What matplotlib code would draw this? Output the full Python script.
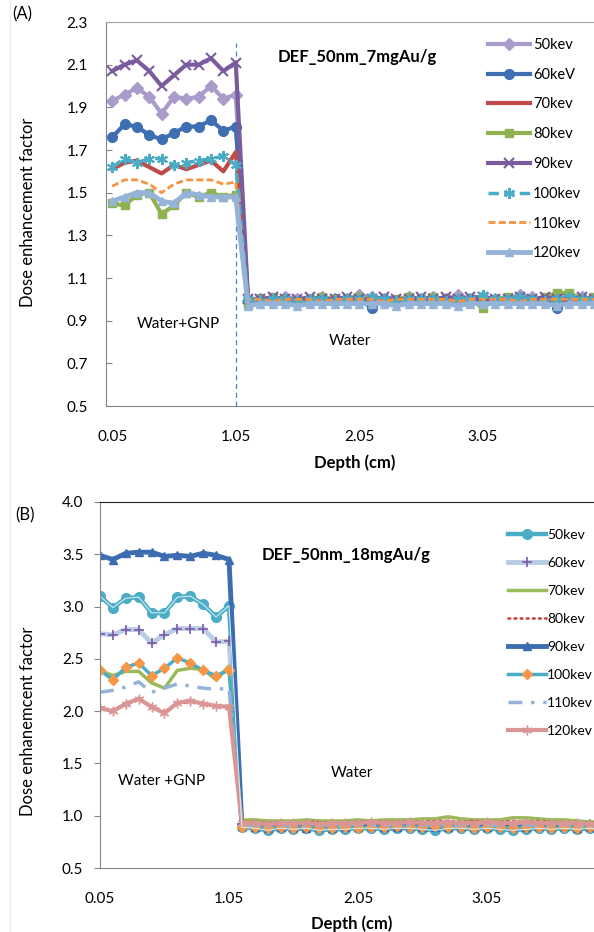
"""Dose enhancement factor vs depth, two GNP concentrations (A: 7 mgAu/g, B: 18 mgAu/g)."""

import matplotlib

matplotlib.use("Agg")
import matplotlib.pyplot as plt  # noqa: E402

plt.rcParams["font.family"] = ["Lato", "DejaVu Sans"]

W, H = 594, 932

DEPTH = [0.05, 0.15, 0.25, 0.35, 0.45, 0.55, 0.65, 0.75, 0.85, 0.95,
         1.05, 1.15, 1.25, 1.35, 1.45, 1.55, 1.65, 1.75, 1.85, 1.95,
         2.05, 2.15, 2.25, 2.35, 2.45, 2.55, 2.65, 2.75, 2.85, 2.95,
         3.05, 3.15, 3.25, 3.35, 3.45, 3.55, 3.65, 3.75, 3.85, 3.95]
XTICKS = [0.05, 1.05, 2.05, 3.05]
LABELS = ["50kev", "60keV", "70kev", "80kev", "90kev", "100kev", "110kev", "120kev"]
LABELS_B = ["50kev", "60kev", "70kev", "80kev", "90kev", "100kev", "110kev", "120kev"]

# panel A: 7 mgAu/g
A50 = [1.93, 1.96, 1.99, 1.95, 1.87, 1.95, 1.94, 1.95, 2.00, 1.94, 1.96,
       0.99, 1.00, 1.00, 1.01, 1.00, 0.99, 1.01, 1.00, 1.00, 1.02, 1.01, 1.00, 0.99, 1.01,
       1.00, 1.01, 1.00, 1.02, 1.00, 1.01, 1.00, 1.00, 1.02, 1.01, 1.00, 1.01, 1.02, 1.01, 1.00]
A60 = [1.76, 1.82, 1.81, 1.77, 1.75, 1.78, 1.81, 1.81, 1.84, 1.79, 1.81,
       0.99, 1.00, 0.99, 1.00, 0.99, 1.00, 0.99, 1.00, 0.99, 1.00, 0.96, 1.00, 0.99, 1.00,
       0.99, 1.00, 1.00, 0.99, 1.00, 0.99, 0.99, 1.00, 1.00, 0.99, 1.00, 0.96, 1.00, 0.99, 0.99]
A70 = [1.61, 1.64, 1.65, 1.62, 1.59, 1.63, 1.61, 1.63, 1.65, 1.60, 1.69,
       1.00, 0.99, 1.00, 0.99, 1.00, 0.98, 1.00, 0.99, 1.00, 0.99, 1.00, 0.99, 1.00, 1.00,
       0.99, 1.00, 0.99, 1.00, 0.99, 0.97, 1.00, 0.99, 1.00, 0.99, 1.00, 1.00, 0.99, 1.00, 0.99]
A80 = [1.45, 1.44, 1.49, 1.50, 1.40, 1.44, 1.50, 1.48, 1.50, 1.48, 1.49,
       0.98, 1.00, 1.01, 1.00, 0.99, 1.00, 1.01, 1.00, 1.00, 1.01, 1.00, 0.99, 1.00, 1.01,
       1.00, 1.01, 1.00, 0.99, 1.00, 0.96, 1.00, 1.01, 1.00, 1.00, 1.01, 1.03, 1.03, 1.00, 1.01]
A90 = [2.07, 2.10, 2.12, 2.07, 2.00, 2.05, 2.10, 2.10, 2.13, 2.07, 2.11,
       1.00, 1.00, 1.01, 1.00, 1.00, 1.01, 1.00, 1.00, 1.01, 1.00, 1.00, 1.01, 1.00, 1.00,
       1.01, 1.00, 1.01, 1.00, 1.01, 1.01, 1.00, 1.00, 1.01, 1.00, 1.01, 1.00, 1.00, 1.01, 1.00]
A100 = [1.62, 1.66, 1.64, 1.66, 1.66, 1.63, 1.64, 1.65, 1.66, 1.67, 1.63,
        1.00, 0.99, 1.00, 1.00, 0.99, 1.00, 1.00, 0.99, 1.00, 1.00, 1.01, 1.00, 0.99, 1.00,
        1.00, 1.00, 0.99, 1.00, 1.00, 1.02, 1.00, 1.00, 1.01, 1.00, 0.99, 1.00, 1.01, 1.00, 1.00]
A110 = [1.53, 1.56, 1.56, 1.54, 1.50, 1.54, 1.56, 1.56, 1.56, 1.54, 1.55,
        1.00, 1.00, 0.99, 1.00, 1.00, 1.00, 0.99, 1.00, 1.00, 1.00, 1.00, 0.99, 1.00, 1.00,
        1.00, 1.00, 1.00, 0.99, 1.00, 1.00, 1.00, 1.00, 0.99, 1.00, 1.00, 1.00, 1.00, 1.00, 1.00]
A120 = [1.46, 1.48, 1.50, 1.50, 1.46, 1.45, 1.50, 1.49, 1.48, 1.48, 1.48,
        0.97, 0.98, 0.98, 0.98, 0.97, 0.98, 0.98, 0.98, 0.98, 0.98, 0.98, 0.98, 0.97, 0.98,
        0.98, 0.98, 0.98, 0.97, 0.98, 0.98, 0.98, 0.98, 0.98, 0.98, 0.98, 0.97, 0.98, 0.98, 0.98]

# panel B: 18 mgAu/g
B50 = [3.10, 2.99, 3.08, 3.09, 2.94, 2.94, 3.09, 3.10, 3.02, 2.90, 3.01,
       0.89, 0.88, 0.86, 0.88, 0.87, 0.88, 0.86, 0.87, 0.87, 0.88, 0.88, 0.87, 0.88, 0.88,
       0.87, 0.86, 0.88, 0.88, 0.87, 0.88, 0.87, 0.86, 0.87, 0.88, 0.87, 0.88, 0.87, 0.88, 0.87]
B60 = [2.74, 2.73, 2.78, 2.78, 2.65, 2.73, 2.79, 2.79, 2.79, 2.66, 2.67,
       0.92, 0.91, 0.91, 0.92, 0.91, 0.91, 0.92, 0.91, 0.91, 0.92, 0.92, 0.91, 0.92, 0.91,
       0.92, 0.92, 0.91, 0.92, 0.92, 0.91, 0.92, 0.91, 0.92, 0.92, 0.91, 0.92, 0.91, 0.92, 0.91]
B70 = [2.39, 2.34, 2.38, 2.38, 2.27, 2.22, 2.39, 2.41, 2.40, 2.30, 2.43,
       0.96, 0.96, 0.95, 0.95, 0.95, 0.96, 0.95, 0.95, 0.95, 0.96, 0.95, 0.96, 0.96, 0.96,
       0.97, 0.97, 0.99, 0.97, 0.96, 0.96, 0.96, 0.98, 0.98, 0.97, 0.96, 0.96, 0.95, 0.94, 0.94]
B80 = [2.02, 2.01, 2.06, 2.11, 2.05, 1.99, 2.07, 2.09, 2.08, 2.05, 2.05,
       0.94, 0.94, 0.93, 0.94, 0.93, 0.94, 0.94, 0.93, 0.94, 0.94, 0.95, 0.94, 0.94, 0.95,
       0.94, 0.95, 0.95, 0.94, 0.95, 0.94, 0.94, 0.95, 0.94, 0.95, 0.94, 0.94, 0.94, 0.93, 0.93]
B90 = [3.49, 3.45, 3.51, 3.52, 3.52, 3.48, 3.49, 3.48, 3.51, 3.49, 3.45,
       0.90, 0.89, 0.88, 0.89, 0.89, 0.88, 0.89, 0.88, 0.89, 0.89, 0.90, 0.89, 0.89, 0.90,
       0.89, 0.89, 0.89, 0.90, 0.89, 0.89, 0.90, 0.89, 0.89, 0.90, 0.89, 0.90, 0.88, 0.89, 0.88]
B100 = [2.39, 2.30, 2.42, 2.46, 2.34, 2.41, 2.51, 2.46, 2.39, 2.34, 2.39,
        0.89, 0.89, 0.88, 0.89, 0.88, 0.89, 0.88, 0.88, 0.89, 0.88, 0.89, 0.89, 0.90, 0.89,
        0.89, 0.90, 0.89, 0.89, 0.88, 0.89, 0.89, 0.88, 0.89, 0.89, 0.88, 0.89, 0.88, 0.89, 0.88]
B110 = [2.18, 2.20, 2.23, 2.28, 2.18, 2.22, 2.26, 2.24, 2.22, 2.21, 2.22,
        0.91, 0.91, 0.90, 0.91, 0.91, 0.90, 0.91, 0.91, 0.91, 0.92, 0.91, 0.91, 0.92, 0.91,
        0.91, 0.92, 0.91, 0.91, 0.92, 0.91, 0.91, 0.92, 0.91, 0.91, 0.91, 0.92, 0.91, 0.90, 0.90]
B120 = [2.03, 2.00, 2.07, 2.12, 2.04, 1.98, 2.08, 2.10, 2.07, 2.05, 2.04,
        0.93, 0.93, 0.92, 0.93, 0.93, 0.93, 0.92, 0.93, 0.93, 0.93, 0.94, 0.93, 0.93, 0.94,
        0.93, 0.93, 0.94, 0.93, 0.93, 0.94, 0.93, 0.93, 0.94, 0.93, 0.93, 0.93, 0.93, 0.92, 0.92]

AST = (6, 2, 0)  # excel-style asterisk marker

STYLE_A = [
    dict(color="#a99bca", lw=3, marker="D", ms=6),
    dict(color="#3f6fb2", lw=3, marker="o", ms=7),
    dict(color="#be4b48", lw=3),
    dict(color="#8fb14f", lw=3, marker="s", ms=6),
    dict(color="#7a5c9e", lw=3, marker="x", ms=7, mew=1.5),
    dict(color="#4bacc6", lw=2.5, ls=(0, (3, 1.5)), marker=AST, ms=8, mew=1.5),
    dict(color="#f69240", lw=2, ls=(0, (2.5, 1.2))),
    dict(color="#95b3d7", lw=3.5, marker="^", ms=6),
]
STYLE_B = [
    dict(color="#4bacc6", lw=3.2, marker="o", ms=7),
    dict(color="#b9cde5", lw=3.5, marker="+", ms=7, mew=1.2, mec="#7b5aa6"),
    dict(color="#9bbb59", lw=2.5),
    dict(color="#c0504d", lw=2, ls=(0, (0.6, 1.6)), dash_capstyle="round"),
    dict(color="#3c6db0", lw=3.5, marker="^", ms=6),
    dict(color="#4bacc6", lw=2.5, marker="D", ms=5.5, mfc="#f79646", mec="#f79646"),
    dict(color="#95b3d7", lw=2.5, ls=(0, (4, 2.5, 1, 2.5))),
    dict(color="#d99694", lw=3, marker=AST, ms=7, mew=1),
]


def fx(x):
    return x / W


def fy(y):
    return 1 - y / H


def style_axes(ax, xlim, yticks, top_color, tickdir, ypad, xpad):
    ax.set_xlim(*xlim)
    for side in ("left", "bottom"):
        ax.spines[side].set_color("#868686")
    ax.spines["top"].set_color(top_color)
    ax.spines["right"].set_visible(False)
    ax.set_xticks(XTICKS)
    ax.set_xticklabels([f"{t:.2f}" for t in XTICKS])
    ax.set_yticks(yticks)
    ax.set_yticklabels([f"{t:.1f}" for t in yticks])
    ax.tick_params(axis="x", length=0, pad=xpad, labelsize=11)
    ax.tick_params(axis="y", length=4, direction=tickdir, color="#868686", pad=ypad, labelsize=11)


fig = plt.figure(figsize=(W / 100, H / 100), dpi=100)
fig.add_artist(plt.Line2D([fx(10), fx(10)], [0, 1], color="#ececec", lw=1))

# ---- panel A
axA = fig.add_axes([fx(106), fy(406), (W - 106) / W, 384 / H])
for vals, lab, st in zip([A50, A60, A70, A80, A90, A100, A110, A120], LABELS, STYLE_A):
    axA.plot(DEPTH, vals, label=lab, **st)
axA.set_ylim(0.5, 2.3)
style_axes(axA, (0.0, 3.95), [0.5, 0.7, 0.9, 1.1, 1.3, 1.5, 1.7, 1.9, 2.1, 2.3], "#a0a0a0", "in", 13, 17)
axA.plot([1.05, 1.05], [0.5, 2.2], color="#4f81bd", lw=0.9, ls=(0, (4, 3)), zorder=0)
axA.legend(loc="upper left", bbox_to_anchor=(fx(488), fy(38)), bbox_transform=fig.transFigure,
           frameon=False, fontsize=10.5, handlelength=2.9, handletextpad=0.2, labelspacing=1.08,
           borderpad=0, borderaxespad=0)

fig.text(fx(12), fy(14), "(A)", fontsize=12, va="center")
fig.text(fx(278), fy(57), "DEF_50nm_7mgAu/g", fontsize=12, fontweight="bold", va="center")
fig.text(fx(178), fy(324), "Water+GNP", fontsize=11, ha="center", va="center")
fig.text(fx(350), fy(341), "Water", fontsize=11, ha="center", va="center")
fig.text(fx(28), fy(212), "Dose enhancement factor", fontsize=12, rotation=90, ha="center", va="center")
fig.text(fx(355), fy(463), "Depth (cm)", fontsize=12, fontweight="bold", ha="center", va="center")

# ---- panel B
axB = fig.add_axes([fx(100), fy(868), (W - 100) / W, 366 / H])
for vals, lab, st in zip([B50, B60, B70, B80, B90, B100, B110, B120], LABELS_B, STYLE_B):
    axB.plot(DEPTH, vals, label=lab, **st)
# inner light stroke of the double line (50kev)
axB.plot(DEPTH, B50, color="#cdebf2", lw=0.8)
axB.set_ylim(0.5, 4.0)
style_axes(axB, (0.05, 3.88), [0.5, 1.0, 1.5, 2.0, 2.5, 3.0, 3.5, 4.0], "#222222", "out", 8, 17)
axB.legend(loc="upper left", bbox_to_anchor=(fx(508), fy(529)), bbox_transform=fig.transFigure,
           frameon=False, fontsize=10, handlelength=2.7, handletextpad=0.12, labelspacing=1.15,
           borderpad=0, borderaxespad=0)

fig.text(fx(15), fy(515), "(B)", fontsize=12, va="center")
fig.text(fx(262), fy(555), "DEF_50nm_18mgAu/g", fontsize=12, fontweight="bold", va="center")
fig.text(fx(162), fy(781), "Water +GNP", fontsize=11, ha="center", va="center")
fig.text(fx(352), fy(773), "Water", fontsize=11, ha="center", va="center")
fig.text(fx(28), fy(721), "Dose enhanemcent factor", fontsize=12, rotation=90, ha="center", va="center")
fig.text(fx(352), fy(924), "Depth (cm)", fontsize=12, fontweight="bold", ha="center", va="center")

fig.savefig("out.png", dpi=100, facecolor="white")
